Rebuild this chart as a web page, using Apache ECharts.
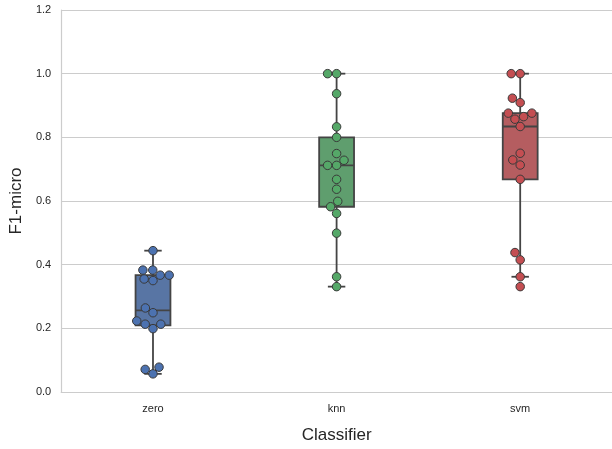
<!DOCTYPE html>
<html>
<head>
<meta charset="utf-8">
<script src="https://cdn.jsdelivr.net/npm/echarts@6/dist/echarts.min.js"></script>
<style>html,body{margin:0;padding:0;background:#fff}#c{width:612px;height:449px}</style>
</head>
<body>
<div id="c"></div>
<script>
const categories = ['zero', 'knn', 'svm'];
const zeroScores = [0.444, 0.383, 0.383, 0.367, 0.367, 0.355, 0.350, 0.264, 0.249, 0.223, 0.213, 0.213, 0.199, 0.078, 0.071, 0.057];
const knnScores = [1.0, 1.0, 0.937, 0.833, 0.800, 0.749, 0.728, 0.712, 0.712, 0.668, 0.637, 0.599, 0.582, 0.561, 0.499, 0.362, 0.331];
const svmScores = [1.0, 1.0, 0.923, 0.909, 0.876, 0.876, 0.865, 0.857, 0.834, 0.750, 0.729, 0.713, 0.668, 0.438, 0.415, 0.362, 0.331];
const yTickLabels = ['0.0', '0.2', '0.4', '0.6', '0.8', '1.0', '1.2'];
const pointColors = ['#4C72B0', '#55A868', '#C44E52'];
const boxColors = ['#5875A4', '#5F9E6E', '#B55D60'];

const groups = [zeroScores, knnScores, svmScores];
const FONT = '"Liberation Sans", Arial, sans-serif';
const BOX_W = 0.19;       // in category units
const DOT = 9;            // swarm spacing in px

function quantile(sorted, p) {
  const pos = p * (sorted.length - 1);
  const lo = Math.floor(pos), hi = Math.ceil(pos);
  return sorted[lo] + (sorted[hi] - sorted[lo]) * (pos - lo);
}
function boxStats(vals, i) {
  const s = vals.slice().sort((a, b) => a - b);
  const q1 = quantile(s, 0.25), med = quantile(s, 0.5), q3 = quantile(s, 0.75);
  const iqr = q3 - q1;
  const lo = Math.min(...s.filter(v => v >= q1 - 1.5 * iqr));
  const hi = Math.max(...s.filter(v => v <= q3 + 1.5 * iqr));
  return [i, lo, q1, med, q3, hi];
}

const chart = echarts.init(document.getElementById('c'), null, {renderer: 'canvas'});

const base = {
  animation: false,
  backgroundColor: '#ffffff',
  grid: {left: 60, top: 10, width: 556, height: 382},
  xAxis: [{
    type: 'category', data: categories,
    axisLine: {show: true, onZero: false, lineStyle: {color: '#cccccc', width: 1.2}},
    axisTick: {show: false},
    axisLabel: {color: '#262626', fontSize: 11, fontFamily: FONT, margin: 11},
    splitLine: {show: false},
    name: 'Classifier', nameLocation: 'middle', nameGap: 35,
    nameTextStyle: {color: '#262626', fontSize: 17, fontFamily: FONT}
  }, {
    type: 'value', min: -0.5, max: 2.5, show: false,
    axisLine: {show: false, onZero: false}, splitLine: {show: false}
  }],
  yAxis: [{
    type: 'value', min: 0, max: 1.2, interval: 0.2,
    axisLine: {show: true, onZero: false, lineStyle: {color: '#cccccc', width: 1.2}},
    axisTick: {show: false},
    axisLabel: {color: '#262626', fontSize: 11, fontFamily: FONT, margin: 10,
      formatter: (v) => yTickLabels[Math.round(v / 0.2)]},
    splitLine: {show: true, lineStyle: {color: '#cccccc', width: 1.2}},
    name: 'F1-micro', nameLocation: 'middle', nameGap: 36, nameRotate: 90,
    nameTextStyle: {color: '#262626', fontSize: 17, fontFamily: FONT}
  }],
  series: []
};
chart.setOption(base);

// beeswarm (seaborn-like) computed in pixel space
function swarmOffsets(vals) {
  const y0 = chart.convertToPixel({xAxisIndex: 1, yAxisIndex: 0}, [0, 0])[1];
  const y1 = chart.convertToPixel({xAxisIndex: 1, yAxisIndex: 0}, [0, 1])[1];
  const pxY = y0 - y1;
  const order = vals.map((v, i) => i).sort((a, b) => vals[a] - vals[b]);
  const placed = [];
  const out = new Array(vals.length);
  for (const i of order) {
    const y = vals[i] * pxY;
    const nb = placed.filter(p => Math.abs(p.y - y) < DOT);
    const cands = [0];
    for (const n of nb) {
      const dy = y - n.y;
      const dx = Math.sqrt(Math.max(DOT * DOT - dy * dy, 0));
      cands.push(n.x - dx, n.x + dx);
    }
    const sorted = cands.map((c, k) => [c, k]).sort((a, b) => (Math.abs(a[0]) - Math.abs(b[0])) || (a[1] - b[1]));
    let chosen = sorted[sorted.length - 1][0];
    for (const [c] of sorted) {
      if (nb.every(n => Math.hypot(n.x - c, n.y - y) >= DOT - 1e-6)) { chosen = c; break; }
    }
    placed.push({x: chosen, y: y});
    out[i] = chosen;
  }
  return out;
}
const px0 = chart.convertToPixel({xAxisIndex: 1, yAxisIndex: 0}, [0, 0])[0];
const px1 = chart.convertToPixel({xAxisIndex: 1, yAxisIndex: 0}, [1, 0])[0];
const pxX = px1 - px0;

const boxData = groups.map((g, i) => boxStats(g, i));

const series = [{
  type: 'custom',
  xAxisIndex: 1, yAxisIndex: 0,
  encode: {x: 0, y: [1, 2, 3, 4, 5]},
  data: boxData,
  z: 2,
  renderItem: function (params, api) {
    const x = api.value(0), lo = api.value(1), q1 = api.value(2), med = api.value(3), q3 = api.value(4), hi = api.value(5);
    const hw = BOX_W / 2;
    const tl = api.coord([x - hw, q3]), br = api.coord([x + hw, q1]);
    const mL = api.coord([x - hw, med]), mR = api.coord([x + hw, med]);
    const cHi = api.coord([x, hi]), cLo = api.coord([x, lo]);
    const cQ3 = api.coord([x, q3]), cQ1 = api.coord([x, q1]);
    const capHL = api.coord([x - hw / 2, hi]), capHR = api.coord([x + hw / 2, hi]);
    const capLL = api.coord([x - hw / 2, lo]), capLR = api.coord([x + hw / 2, lo]);
    const ls = {stroke: '#444444', lineWidth: 1.8};
    return {
      type: 'group',
      children: [
        {type: 'line', shape: {x1: cHi[0], y1: cHi[1], x2: cQ3[0], y2: cQ3[1]}, style: ls},
        {type: 'line', shape: {x1: cQ1[0], y1: cQ1[1], x2: cLo[0], y2: cLo[1]}, style: ls},
        {type: 'line', shape: {x1: capHL[0], y1: capHL[1], x2: capHR[0], y2: capHR[1]}, style: ls},
        {type: 'line', shape: {x1: capLL[0], y1: capLL[1], x2: capLR[0], y2: capLR[1]}, style: ls},
        {type: 'rect', shape: {x: tl[0], y: tl[1], width: br[0] - tl[0], height: br[1] - tl[1]},
          style: {fill: boxColors[params.dataIndex], stroke: '#444444', lineWidth: 1.8}},
        {type: 'line', shape: {x1: mL[0], y1: mL[1], x2: mR[0], y2: mR[1]}, style: ls}
      ]
    };
  }
}];

groups.forEach((g, i) => {
  const offs = swarmOffsets(g);
  series.push({
    type: 'scatter',
    xAxisIndex: 1, yAxisIndex: 0,
    z: 5,
    symbol: 'circle',
    symbolSize: 8.5,
    itemStyle: {color: pointColors[i], borderColor: '#3a3a3a', borderWidth: 1, opacity: 1},
    data: g.map((v, k) => [i + offs[k] / pxX, v])
  });
});

chart.setOption({series: series});
</script>
</body>
</html>
